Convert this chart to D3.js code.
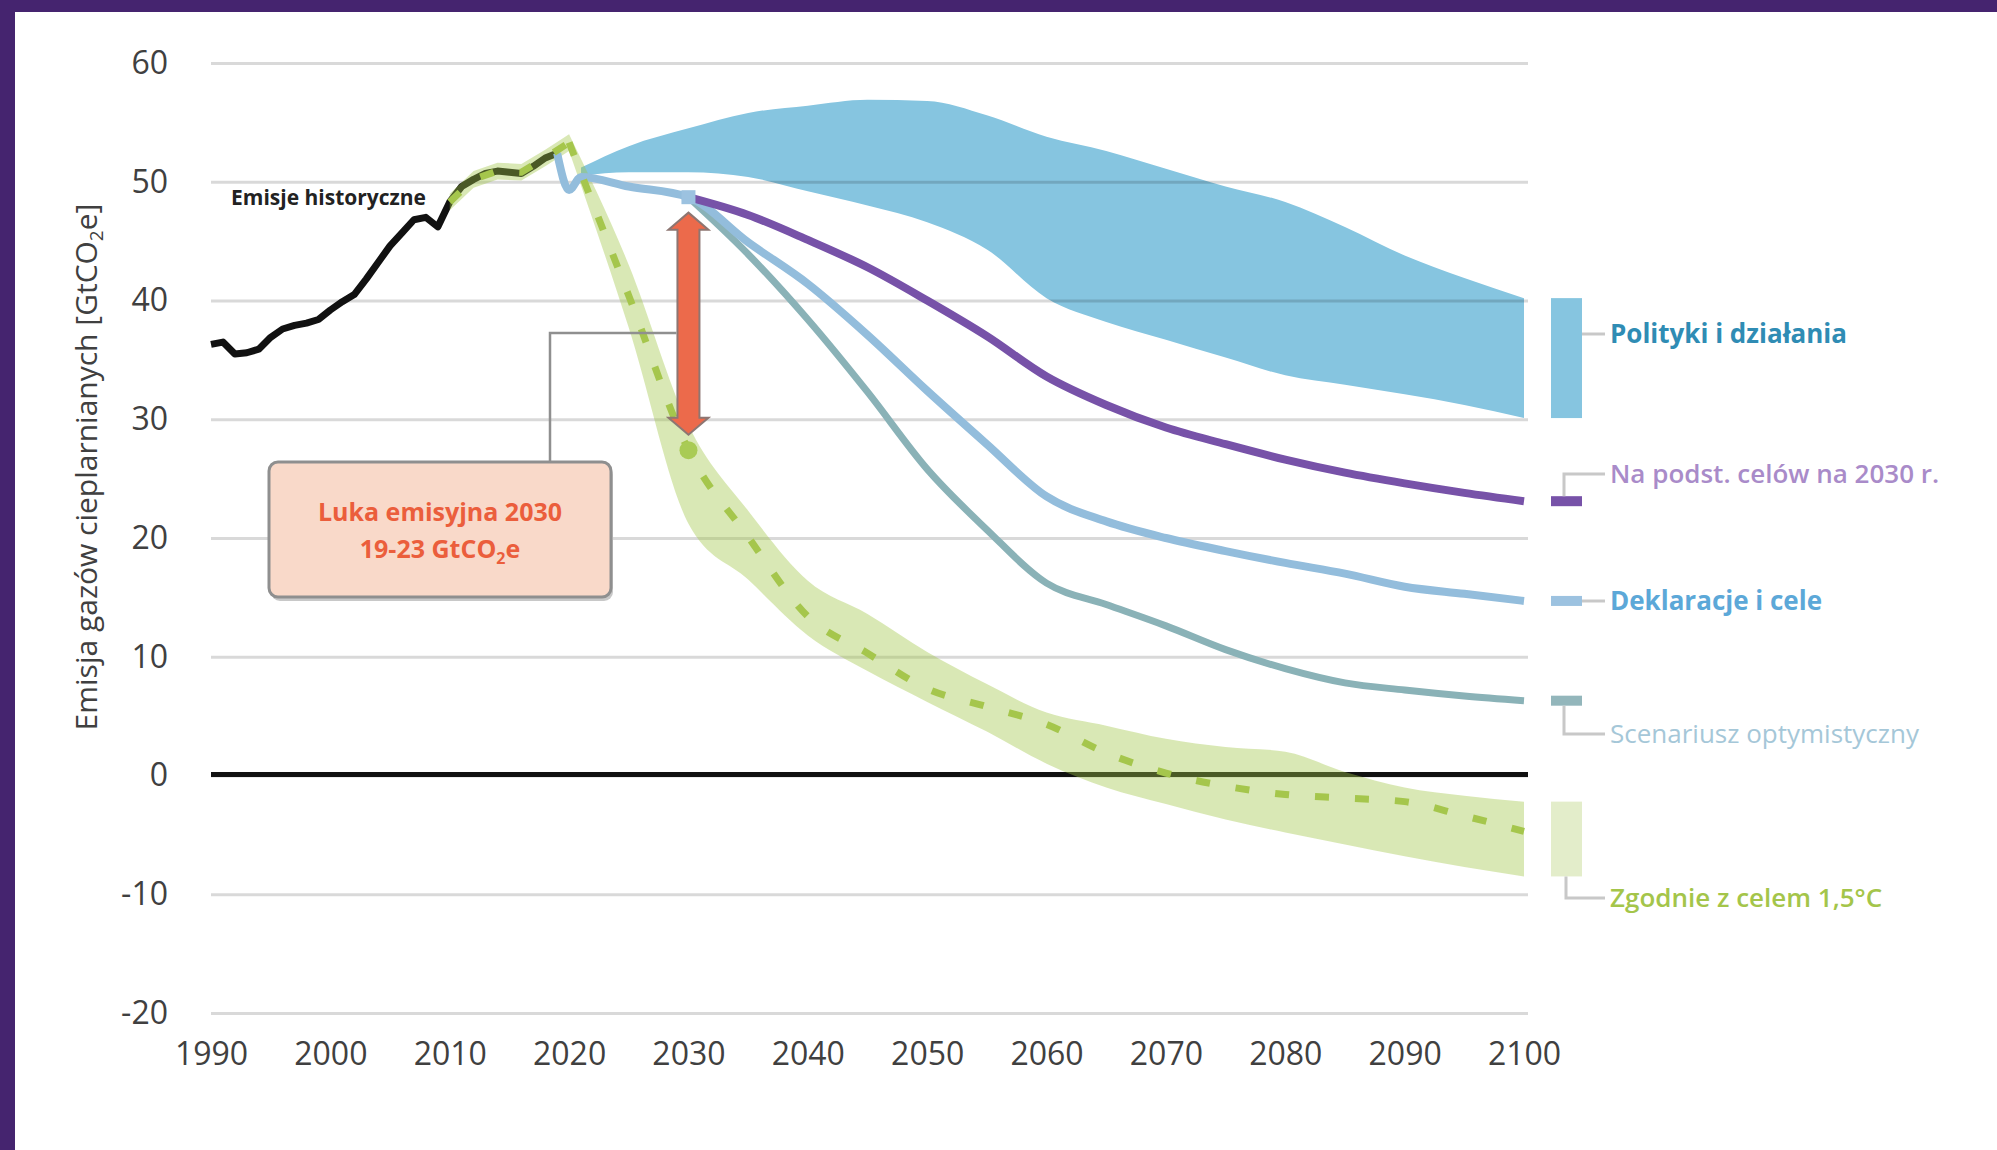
<!DOCTYPE html>
<html>
<head>
<meta charset="utf-8">
<script src="https://cdn.jsdelivr.net/npm/d3@7"></script>
<style>
  html, body { margin: 0; padding: 0; background: #fff; }
  svg { display: block; }
</style>
</head>
<body>
<script>
// ---- dane ----
// emisje historyczne 1990-2019
var histYears = [1990, 1991, 1992, 1993, 1994, 1995, 1996, 1997, 1998, 1999,
                 2000, 2001, 2002, 2003, 2004, 2005, 2006, 2007, 2008, 2009,
                 2010, 2011, 2012, 2013, 2014, 2015, 2016, 2017, 2018, 2019];
var histValues = [36.3, 36.5, 35.5, 35.6, 35.9, 36.9, 37.6, 37.9, 38.1, 38.4,
                  39.2, 39.9, 40.5, 41.8, 43.2, 44.6, 45.7, 46.8, 47.0, 46.2,
                  48.3, 49.6, 50.2, 50.7, 50.9, 50.8, 50.7, 51.3, 52.0, 52.4];

// polityki i dzialania (zakres)
var policyYears = [2021, 2025, 2030, 2035, 2040, 2045, 2050, 2055, 2060, 2065, 2070, 2075, 2080, 2085, 2090, 2095, 2100];
var policyLow   = [50.5, 50.8, 50.8, 50.4, 49.2, 48.0, 46.6, 44.3, 40.2, 38.2, 36.7, 35.2, 33.7, 32.9, 32.1, 31.2, 30.1];
var policyHigh  = [51.2, 53.0, 54.5, 55.8, 56.4, 56.9, 56.8, 55.6, 53.8, 52.6, 51.1, 49.6, 48.3, 46.2, 43.8, 41.9, 40.2];

// sciezki od 2030
var projYears = [2030, 2035, 2040, 2045, 2050, 2055, 2060, 2065, 2070, 2075, 2080, 2085, 2090, 2095, 2100];
var targets2030 = [48.7, 47.2, 45.1, 42.8, 40.0, 37.0, 33.6, 31.2, 29.3, 27.9, 26.6, 25.5, 24.6, 23.8, 23.1];
var optimistic  = [48.7, 43.9, 38.4, 32.3, 25.8, 20.7, 16.2, 14.4, 12.6, 10.6, 9.0, 7.8, 7.2, 6.7, 6.3];

// deklaracje i cele (z krotkim odcinkiem 2019-2030)
var pledgeYears  = [2019, 2020, 2021, 2025, 2030, 2035, 2040, 2045, 2050, 2055, 2060, 2065, 2070, 2075, 2080, 2085, 2090, 2095, 2100];
var pledgeValues = [52.4, 49.3, 50.4, 49.6, 48.7, 44.9, 41.4, 37.1, 32.4, 27.9, 23.5, 21.4, 20.0, 18.9, 17.9, 17.0, 15.9, 15.3, 14.7];

// zgodnie z celem 1,5C - czesc historyczna i projekcja
var c15YearsA = [2010, 2012, 2014, 2016, 2018, 2020];
var c15MidA   = [48.3, 50.2, 50.9, 50.8, 52.0, 53.3];
var c15LowA   = [47.6, 49.5, 50.2, 50.1, 51.3, 52.6];
var c15HighA  = [49.0, 50.9, 51.6, 51.5, 52.7, 54.0];

var c15YearsB = [2020, 2025, 2030, 2035, 2040, 2045, 2050, 2055, 2060, 2065, 2070, 2075, 2080, 2085, 2090, 2095, 2100];
var c15MidB   = [53.3, 40.4, 27.4, 20.1, 13.4, 10.3, 7.3, 5.8, 4.3, 1.9, 0.2, -0.9, -1.6, -1.9, -2.2, -3.4, -4.7];
var c15LowB   = [52.6, 37.7, 21.2, 16.5, 11.8, 8.8, 6.2, 3.7, 1.0, -1.0, -2.4, -3.7, -4.8, -5.8, -6.8, -7.7, -8.5];
var c15HighB  = [54.0, 43.0, 29.5, 22.3, 16.4, 13.6, 10.4, 7.7, 5.3, 4.2, 3.1, 2.4, 2.0, 0.3, -1.0, -1.7, -2.2];

// luka emisyjna 2030
var gapYear = 2030;
var gapTop = 47.4, gapBottom = 28.7;

// osie
var xTicks = [1990, 2000, 2010, 2020, 2030, 2040, 2050, 2060, 2070, 2080, 2090, 2100];
var yTicks = [-20, -10, 0, 10, 20, 30, 40, 50, 60];

var legendLabels = ["Polityki i działania", "Na podst. celów na 2030 r.", "Deklaracje i cele",
                    "Scenariusz optymistyczny", "Zgodnie z celem 1,5°C"];

// ---- rysowanie ----
var w = 1997, h = 1150;
var font = "'Open Sans', 'Noto Sans', sans-serif";

var zip = function(xs, ys) { return xs.map(function(d, i) { return [d, ys[i]]; }); };
var zip3 = function(xs, lo, hi) { return xs.map(function(d, i) { return {x: d, lo: lo[i], hi: hi[i]}; }); };

var svg = d3.select("body").append("svg")
  .attr("width", w)
  .attr("height", h)
  .style("font-family", font);

svg.append("rect").attr("width", w).attr("height", h).attr("fill", "#fff");

var x = d3.scaleLinear().domain([1990, 2100]).range([211, 1524]);
var y = d3.scaleLinear().domain([-20, 60]).range([1013, 63]);

var line = d3.line().x(d => x(d[0])).y(d => y(d[1]));
var smooth = d3.line().x(d => x(d[0])).y(d => y(d[1])).curve(d3.curveMonotoneX);
var bandA = d3.area().x(d => x(d.x)).y0(d => y(d.lo)).y1(d => y(d.hi));
var band = d3.area().x(d => x(d.x)).y0(d => y(d.lo)).y1(d => y(d.hi)).curve(d3.curveMonotoneX);

// zakres polityk (pod siatka)
svg.append("path")
  .attr("d", band(zip3(policyYears, policyLow, policyHigh)))
  .attr("fill", "#86c5e0");

// siatka + os Y
var gy = svg.append("g")
  .attr("transform", "translate(211,0)")
  .call(d3.axisLeft(y).tickValues(yTicks).tickSize(-1317).tickPadding(43).tickFormat(d => String(d)));
gy.select(".domain").remove();
gy.attr("font-size", 32).attr("font-family", font);
gy.selectAll(".tick line").attr("stroke", "#000").attr("stroke-opacity", 0.15).attr("stroke-width", 3);
gy.selectAll(".tick text").attr("fill", "#404040");

// os X
var gx = svg.append("g")
  .attr("transform", "translate(0,1013)")
  .call(d3.axisBottom(x).tickValues(xTicks).tickSize(0).tickPadding(29).tickFormat(d => String(d)));
gx.select(".domain").remove();
gx.attr("font-size", 32).attr("font-family", font);
gx.selectAll(".tick text").attr("fill", "#404040");

// linia zera
svg.append("line")
  .attr("x1", 211).attr("x2", 1528)
  .attr("y1", y(0) - 1).attr("y2", y(0) - 1)
  .attr("stroke", "#111").attr("stroke-width", 5);

// emisje historyczne
svg.append("path")
  .attr("d", line(zip(histYears, histValues)))
  .attr("fill", "none")
  .attr("stroke", "#111")
  .attr("stroke-width", 7)
  .attr("stroke-linejoin", "round");

// pasmo 1,5C
[bandA(zip3(c15YearsA, c15LowA, c15HighA)), band(zip3(c15YearsB, c15LowB, c15HighB))].forEach(function(p) {
  svg.append("path")
    .attr("d", p)
    .attr("fill", "#a0c646")
    .attr("fill-opacity", 0.4);
});

// sciezki
var series = [
  {years: projYears, vals: optimistic, color: "#8ab2b7", width: 7},
  {years: pledgeYears, vals: pledgeValues, color: "#93bddc", width: 8},
  {years: projYears, vals: targets2030, color: "#7752a8", width: 8}
];
series.forEach(function(s) {
  svg.append("path")
    .attr("d", smooth(zip(s.years, s.vals)))
    .attr("fill", "none")
    .attr("stroke", s.color)
    .attr("stroke-width", s.width);
});

// przerywana 1,5C
[line(zip(c15YearsA, c15MidA)), smooth(zip(c15YearsB, c15MidB))].forEach(function(p) {
  svg.append("path")
    .attr("d", p)
    .attr("fill", "none")
    .attr("stroke", "#a5c64c")
    .attr("stroke-width", 7)
    .attr("stroke-dasharray", "14,26");
});

// znaczniki 2030
svg.append("rect")
  .attr("x", x(2030) - 7).attr("y", y(48.7) - 7)
  .attr("width", 14).attr("height", 14)
  .attr("fill", "#9cc2e0");
svg.append("circle")
  .attr("cx", x(2030)).attr("cy", y(c15MidB[2]))
  .attr("r", 9)
  .attr("fill", "#a9cb55");

// strzalka luki
var ax = x(gapYear), at = y(gapTop), ab = y(gapBottom);
var bw = 11, hw = 20, hl = 17;
svg.append("polygon")
  .attr("points", [
    [ax, at], [ax + hw, at + hl], [ax + bw, at + hl], [ax + bw, ab - hl], [ax + hw, ab - hl],
    [ax, ab], [ax - hw, ab - hl], [ax - bw, ab - hl], [ax - bw, at + hl], [ax - hw, at + hl]
  ].map(p => p.join(",")).join(" "))
  .attr("fill", "#ec6a4b")
  .attr("stroke", "#8d7672")
  .attr("stroke-width", 2);

// objasnienie luki
svg.append("polyline")
  .attr("points", [[550, 462], [550, 333], [ax - bw - 1, 333]].map(p => p.join(",")).join(" "))
  .attr("fill", "none")
  .attr("stroke", "#8f8f8f")
  .attr("stroke-width", 2.5);

svg.append("rect")
  .attr("x", 271).attr("y", 466).attr("width", 342).attr("height", 135).attr("rx", 9)
  .attr("fill", "#c8c8c8");
svg.append("rect")
  .attr("x", 269).attr("y", 462).attr("width", 342).attr("height", 135).attr("rx", 9)
  .attr("fill", "#f9d9c9")
  .attr("stroke", "#8f8f8f")
  .attr("stroke-width", 3);

var boxText = svg.append("text")
  .attr("text-anchor", "middle")
  .attr("font-size", 25)
  .attr("font-weight", 700)
  .attr("fill", "#eb5e3c");
boxText.append("tspan").attr("x", 440).attr("y", 521).text("Luka emisyjna 2030");
var l2 = boxText.append("tspan").attr("x", 440).attr("y", 558);
l2.append("tspan").text("19-23 GtCO");
l2.append("tspan").attr("font-size", 16).attr("dy", 6).text("2");
l2.append("tspan").attr("dy", -6).text("e");

svg.append("text")
  .attr("x", 231).attr("y", 205)
  .attr("font-size", 21)
  .attr("font-weight", 700)
  .attr("fill", "#222")
  .text("Emisje historyczne");

// tytul osi Y
var yt = svg.append("text")
  .attr("transform", "translate(97,467) rotate(-90)")
  .attr("text-anchor", "middle")
  .attr("font-size", 30)
  .attr("fill", "#404040");
yt.append("tspan").text("Emisja gazów cieplarnianych [GtCO");
yt.append("tspan").attr("font-size", 19).attr("dy", 6).text("2");
yt.append("tspan").attr("dy", -6).text("e]");

// legenda po prawej
var last = projYears.length - 1;
var lx = 1551, lw = 31, tx = 1610;
var lead = "#c8c8c8";

var leg = svg.append("g");
// polityki
leg.append("rect").attr("x", lx).attr("y", y(policyHigh[policyHigh.length - 1]))
  .attr("width", lw).attr("height", y(policyLow[policyLow.length - 1]) - y(policyHigh[policyHigh.length - 1]))
  .attr("fill", "#86c5e0");
// cele 2030
leg.append("rect").attr("x", lx).attr("y", y(targets2030[last]) - 5).attr("width", lw).attr("height", 10).attr("fill", "#7752a8");
// deklaracje
leg.append("rect").attr("x", lx).attr("y", y(pledgeValues[pledgeValues.length - 1]) - 5).attr("width", lw).attr("height", 10).attr("fill", "#9cc2e0");
// optymistyczny
leg.append("rect").attr("x", lx).attr("y", y(optimistic[last]) - 5).attr("width", lw).attr("height", 10).attr("fill", "#93b6bb");
// 1,5C
leg.append("rect").attr("x", lx).attr("y", y(c15HighB[c15HighB.length - 1]))
  .attr("width", lw).attr("height", y(c15LowB[c15LowB.length - 1]) - y(c15HighB[c15HighB.length - 1]))
  .attr("fill", "#e3edca");

var leaders = [
  [[lx + lw, 334], [1605, 334]],
  [[1564, y(targets2030[last]) - 5], [1564, 474], [1605, 474]],
  [[lx + lw, 601], [1605, 601]],
  [[1564, y(optimistic[last]) + 5], [1564, 734], [1605, 734]],
  [[1566, y(c15LowB[c15LowB.length - 1])], [1566, 898], [1605, 898]]
];
leaders.forEach(function(pts) {
  leg.append("polyline")
    .attr("points", pts.map(p => p.join(",")).join(" "))
    .attr("fill", "none")
    .attr("stroke", lead)
    .attr("stroke-width", 3);
});

var labelY = [334, 474, 601, 734, 898];
var labelColors = ["#2f8cb4", "#a98bc9", "#5ca8d8", "#a5c7d8", "#a4c54a"];
var labelWeights = [700, 600, 700, 400, 600];
legendLabels.forEach(function(t, i) {
  leg.append("text")
    .attr("x", tx).attr("y", labelY[i])
    .attr("dy", "0.35em")
    .attr("font-size", 26)
    .attr("font-weight", labelWeights[i])
    .attr("fill", labelColors[i])
    .text(t);
});

// ramka
svg.append("rect").attr("x", 0).attr("y", 0).attr("width", w).attr("height", 12).attr("fill", "#45246f");
svg.append("rect").attr("x", 0).attr("y", 0).attr("width", 15).attr("height", h).attr("fill", "#45246f");
</script>
</body>
</html>
